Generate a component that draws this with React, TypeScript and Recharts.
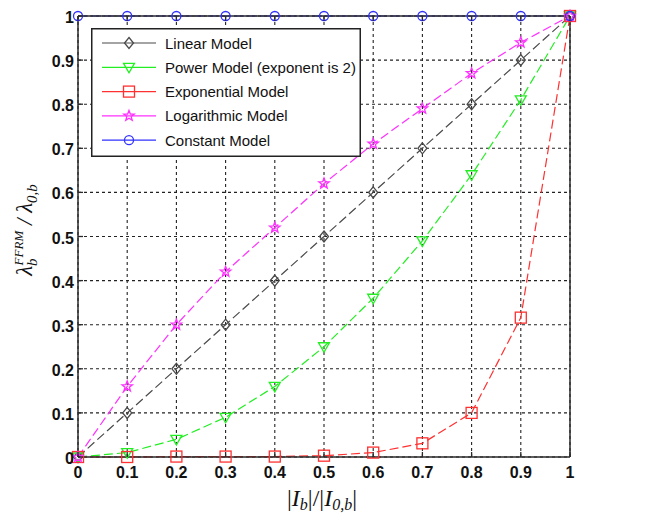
import React from 'react';
import { LineChart, Line, XAxis, YAxis, CartesianGrid, Legend, Label } from 'recharts';

const xValues = [0, 0.1, 0.2, 0.3, 0.4, 0.5, 0.6, 0.7, 0.8, 0.9, 1];
const linearModel = [0, 0.1, 0.2, 0.3, 0.4, 0.5, 0.6, 0.7, 0.8, 0.9, 1];
const powerModel = [0, 0.01, 0.04, 0.09, 0.16, 0.25, 0.36, 0.49, 0.64, 0.81, 1];
const exponentialModel = [0, 0, 0.001, 0.001, 0.001, 0.003, 0.01, 0.031, 0.1, 0.316, 1];
const logarithmicModel = [0, 0.16, 0.3, 0.42, 0.52, 0.62, 0.71, 0.79, 0.87, 0.94, 1];
const constantModel = [1, 1, 1, 1, 1, 1, 1, 1, 1, 1, 1];

const xTicks = [0, 0.1, 0.2, 0.3, 0.4, 0.5, 0.6, 0.7, 0.8, 0.9, 1];
const yTicks = [0, 0.1, 0.2, 0.3, 0.4, 0.5, 0.6, 0.7, 0.8, 0.9, 1];

const seriesNames = [
  'Linear Model',
  'Power Model (exponent is 2)',
  'Exponential Model',
  'Logarithmic Model',
  'Constant Model',
];

const data = xValues.map((x, i) => ({
  x,
  linear: linearModel[i],
  power: powerModel[i],
  exponential: exponentialModel[i],
  logarithmic: logarithmicModel[i],
  constant: constantModel[i],
}));

type Kind = 'diamond' | 'tri' | 'square' | 'star' | 'circle';

const series: { key: string; name: string; color: string; kind: Kind; dash: string }[] = [
  { key: 'linear', name: seriesNames[0], color: '#4a4a4a', kind: 'diamond', dash: '9 4' },
  { key: 'power', name: seriesNames[1], color: '#22ee22', kind: 'tri', dash: '9 4' },
  { key: 'exponential', name: seriesNames[2], color: '#ff3030', kind: 'square', dash: '9 4' },
  { key: 'logarithmic', name: seriesNames[3], color: '#ff30ff', kind: 'star', dash: '9 4' },
  { key: 'constant', name: seriesNames[4], color: '#3030ff', kind: 'circle', dash: '10 3' },
];

function starPath(cx: number, cy: number, ro: number, ri: number) {
  let d = '';
  for (let k = 0; k < 10; k++) {
    const r = k % 2 === 0 ? ro : ri;
    const a = -Math.PI / 2 + (k * Math.PI) / 5;
    d += (k === 0 ? 'M' : 'L') + (cx + r * Math.cos(a)).toFixed(2) + ',' + (cy + r * Math.sin(a)).toFixed(2);
  }
  return d + 'Z';
}

function Marker({ kind, cx, cy, color }: { kind: Kind; cx: number; cy: number; color: string }) {
  const common = { fill: 'none', stroke: color, strokeWidth: 1.3 };
  switch (kind) {
    case 'diamond':
      return <path d={`M${cx},${cy - 5.5}L${cx + 4.5},${cy}L${cx},${cy + 5.5}L${cx - 4.5},${cy}Z`} {...common} />;
    case 'tri':
      return <path d={`M${cx - 5.5},${cy - 4}L${cx + 5.5},${cy - 4}L${cx},${cy + 5.5}Z`} {...common} />;
    case 'square':
      return <rect x={cx - 5.5} y={cy - 5.5} width={11} height={11} {...common} />;
    case 'star':
      return <path d={starPath(cx, cy, 5.5, 2.3)} {...common} />;
    case 'circle':
    default:
      return <circle cx={cx} cy={cy} r={4.5} {...common} />;
  }
}

const tickFont = { fontFamily: 'Liberation Sans, Arial, sans-serif', fontSize: 16, fontWeight: 'bold' as const, fill: '#111' };
const axisColor = '#2a2a2a';

const LeftTick = (props: any) => {
  const { x, y, payload } = props;
  return (
    <g>
      <line x1={x} x2={x + 5} y1={y} y2={y} stroke={axisColor} strokeWidth={1.3} />
      <text x={x - 4} y={y + 7} textAnchor="end" {...tickFont}>{String(payload.value)}</text>
    </g>
  );
};
const RightTick = (props: any) => {
  const { x, y } = props;
  return <line x1={x} x2={x - 5} y1={y} y2={y} stroke={axisColor} strokeWidth={1.3} />;
};
const BottomTick = (props: any) => {
  const { x, y, payload } = props;
  return (
    <g>
      <line x1={x} x2={x} y1={y} y2={y - 5} stroke={axisColor} strokeWidth={1.3} />
      <text x={x} y={y + 21} textAnchor="middle" {...tickFont}>{String(payload.value)}</text>
    </g>
  );
};
const TopTick = (props: any) => {
  const { x, y } = props;
  return <line x1={x} x2={x} y1={y} y2={y + 5} stroke={axisColor} strokeWidth={1.3} />;
};

const mathFont = 'Liberation Serif, DejaVu Serif, serif';

const XLabel = () => (
  <text x={322} y={506} textAnchor="middle" fontFamily={mathFont} fontSize={24} fontStyle="italic" fill="#111">
    <tspan fontStyle="normal">|</tspan>
    <tspan>I</tspan>
    <tspan dy={4} fontSize={16}>b</tspan>
    <tspan dy={-4} fontStyle="normal">|/|</tspan>
    <tspan>I</tspan>
    <tspan dy={4} fontSize={16}>0,b</tspan>
    <tspan dy={-4} fontStyle="normal">|</tspan>
  </text>
);

const YLabel = () => (
  <text
    x={0}
    y={0}
    transform="translate(32,230) rotate(-90)"
    textAnchor="middle"
    fontFamily={mathFont}
    fontSize={23}
    fontStyle="italic"
    fill="#111"
  >
    <tspan>λ</tspan>
    <tspan dy={5} fontSize={15}>b</tspan>
    <tspan dx={-7} dy={-14} fontSize={13}>FFRM</tspan>
    <tspan dy={9}>{'  /  λ'}</tspan>
    <tspan dy={5} fontSize={15}>0,b</tspan>
  </text>
);

const renderLegend = () => (
  <svg width={270} height={129} style={{ display: 'block' }}>
    <rect x={0.75} y={0.75} width={268.5} height={127.5} fill="#fff" stroke="#222" strokeWidth={1.5} />
    {series.map((s, i) => {
      const cy = 15 + i * 24.3;
      return (
        <g key={s.key}>
          <line x1={11} x2={65} y1={cy} y2={cy} stroke={s.color} strokeWidth={1.2} />
          <Marker kind={s.kind} cx={38} cy={cy} color={s.color} />
          <text x={74} y={cy + 5.5} fontFamily="Liberation Sans, Arial, sans-serif" fontSize={15} fill="#111">
            {s.name}
          </text>
        </g>
      );
    })}
  </svg>
);

export default function App() {
  return (
    <div style={{ position: 'absolute', left: 0, top: 0, width: 656, height: 516, background: '#fff' }}>
      <LineChart width={656} height={516} data={data} margin={{ top: 15, right: 85, bottom: 29, left: 38 }}>
        <CartesianGrid xAxisId="b" yAxisId="l" stroke="#222" strokeDasharray="3 3" strokeWidth={1.1} />
        <XAxis
          xAxisId="b"
          dataKey="x"
          type="number"
          domain={[0, 1]}
          ticks={xTicks}
          interval={0}
          height={30}
          tickSize={0}
          tickMargin={0}
          tick={BottomTick}
          axisLine={{ stroke: axisColor, strokeWidth: 1.5 }}
        >
          <Label content={XLabel} />
        </XAxis>
        <XAxis
          xAxisId="t"
          orientation="top"
          dataKey="x"
          type="number"
          domain={[0, 1]}
          ticks={xTicks}
          interval={0}
          height={1}
          tickSize={0}
          tickMargin={0}
          tick={TopTick}
          axisLine={{ stroke: axisColor, strokeWidth: 1.5 }}
        />
        <YAxis
          yAxisId="l"
          type="number"
          domain={[0, 1]}
          ticks={yTicks}
          interval={0}
          width={40}
          tickSize={0}
          tickMargin={0}
          tick={LeftTick}
          axisLine={{ stroke: axisColor, strokeWidth: 1.5 }}
        >
          <Label content={YLabel} />
        </YAxis>
        <YAxis
          yAxisId="r"
          orientation="right"
          type="number"
          domain={[0, 1]}
          ticks={yTicks}
          interval={0}
          width={1}
          tickSize={0}
          tickMargin={0}
          tick={RightTick}
          axisLine={{ stroke: axisColor, strokeWidth: 1.5 }}
        />
        {series.map((s) => (
          <Line
            key={s.key}
            xAxisId="b"
            yAxisId="l"
            type="linear"
            dataKey={s.key}
            name={s.name}
            stroke={s.color}
            strokeWidth={1.2}
            strokeDasharray={s.dash}
            isAnimationActive={false}
            dot={(p: any) => <Marker key={`${s.key}-${p.index}`} kind={s.kind} cx={p.cx} cy={p.cy} color={s.color} />}
            activeDot={false}
          />
        ))}
        <Legend
          layout="vertical"
          align="center"
          verticalAlign="middle"
          content={renderLegend}
          wrapperStyle={{ position: 'absolute', left: 91, top: 28, width: 270, height: 129 }}
        />
      </LineChart>
    </div>
  );
}
